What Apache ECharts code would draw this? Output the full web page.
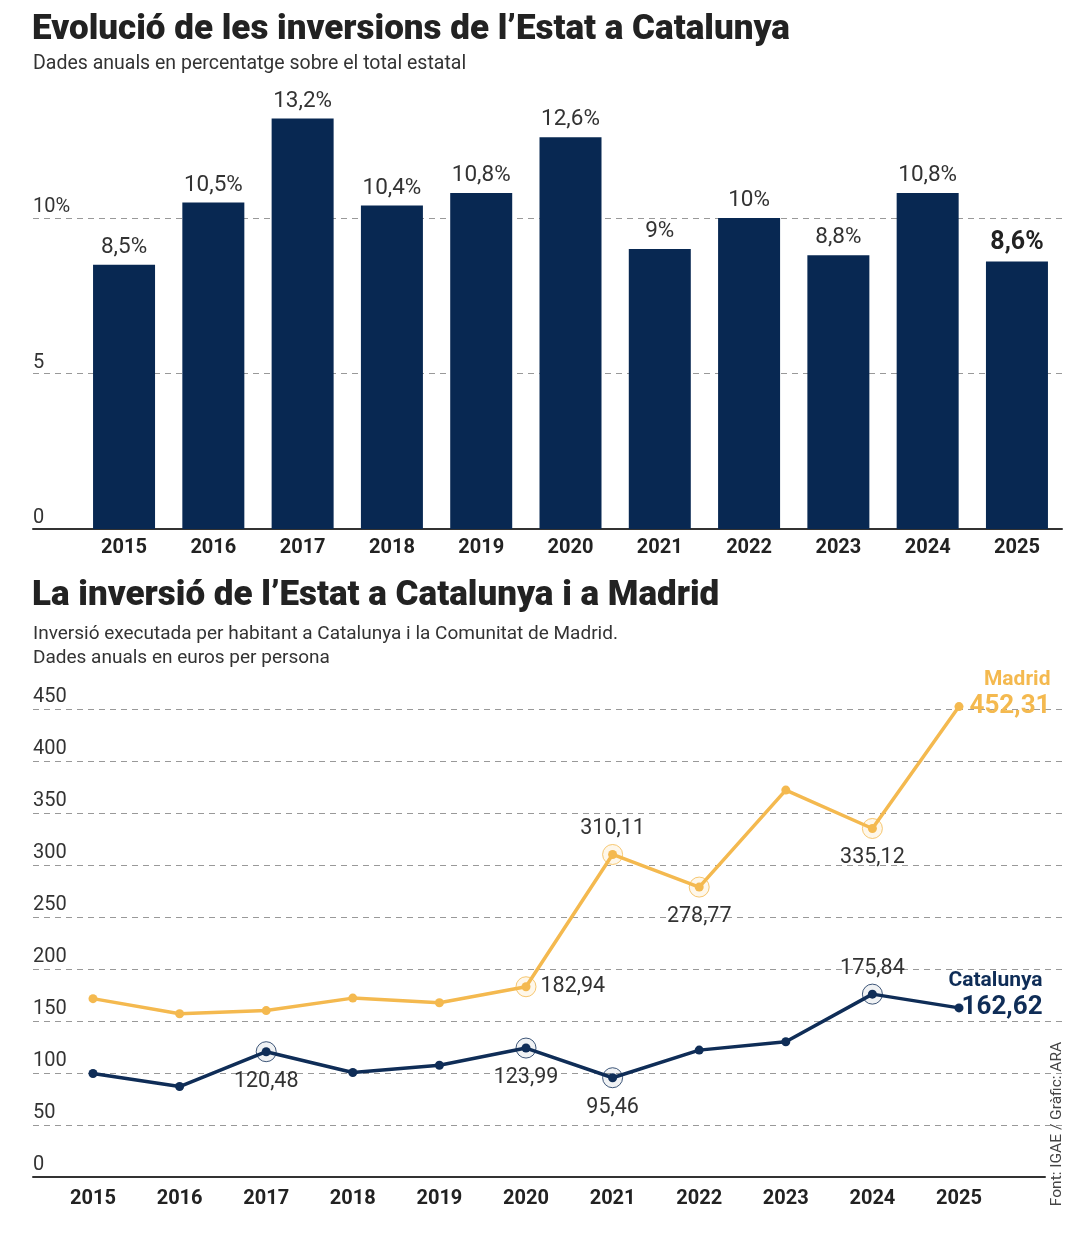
<!DOCTYPE html>
<html>
<head>
<meta charset="utf-8">
<script src="https://cdn.jsdelivr.net/npm/echarts@6/dist/echarts.min.js"></script>
<style>
html,body{margin:0;padding:0;background:#fff}
#main{width:1074px;height:1255px}
</style>
</head>
<body>
<div id="main"></div>
<script>
// dades
var years = ['2015','2016','2017','2018','2019','2020','2021','2022','2023','2024','2025'];
var sharePct = [8.5, 10.5, 13.2, 10.4, 10.8, 12.6, 9, 10, 8.8, 10.8, 8.6];
var madrid = [171.5, 157, 160, 172, 167.5, 182.94, 310.11, 278.77, 372, 335.12, 452.31];
var catalunya = [99.5, 87, 120.48, 100.5, 107.5, 123.99, 95.46, 122, 130, 175.84, 162.62];
var pctTicks = [0, 5, 10];
var euroTicks = [0, 50, 100, 150, 200, 250, 300, 350, 400, 450];

// punts destacats (index -> posicio etiqueta)
var madMarked = {5: 'right', 6: 'top', 7: 'bottom', 9: 'bottom'};
var catMarked = {2: 'bottom', 5: 'bottom', 6: 'bottom', 9: 'top'};

var FONT = 'Roboto, "Noto Sans", sans-serif';
var NAVY = '#082852';
var CAT = '#0f2d57';
var MAD = '#f4b94f';
var last = years.length - 1;

function fmt(v){ return String(v).replace('.', ','); }

function lineData(vals, marked, name, color, off){
	return vals.map(function(v, i){
		if (i === last) {
			return {value: v, label: {
				show: true, position: 'right', distance: 4, offset: off,
				formatter: '{n|' + name + '}\n{v|' + fmt(v) + '}',
				rich: {
					n: {fontFamily: FONT, fontWeight: 'bold', fontSize: 21, color: color, align: 'right', lineHeight: 25},
					v: {fontFamily: FONT, fontWeight: 'bold', fontSize: 26, color: color, align: 'right', lineHeight: 28}
				}
			}};
		}
		if (marked[i]) {
			var pos = marked[i];
			return {value: v, label: {show: true, position: pos, distance: pos === 'bottom' ? 14 : 10,
				formatter: fmt(v), fontFamily: FONT, fontSize: 21.5, color: '#333'}};
		}
		return v;
	});
}

function rings(vals, marked){
	return Object.keys(marked).map(function(k){ return [+k, vals[+k]]; });
}

var chart = echarts.init(document.getElementById('main'));
chart.setOption({
	animation: false,
	backgroundColor: '#fff',
	title: [
		{text: 'Evolució de les inversions de l’Estat a Catalunya', left: 32, top: 13, padding: 0,
			textStyle: {fontFamily: FONT, fontWeight: 900, fontSize: 35, color: '#222'}},
		{text: 'Dades anuals en percentatge sobre el total estatal', left: 33, top: 54, padding: 0,
			textStyle: {fontFamily: FONT, fontWeight: 'normal', fontSize: 19.5, color: '#333'}},
		{text: 'La inversió de l’Estat a Catalunya i a Madrid', left: 32, top: 579, padding: 0,
			textStyle: {fontFamily: FONT, fontWeight: 900, fontSize: 35, color: '#222'}},
		{text: 'Inversió executada per habitant a Catalunya i la Comunitat de Madrid.\nDades anuals en euros per persona', left: 33, top: 622, padding: 0,
			textStyle: {fontFamily: FONT, fontWeight: 'normal', fontSize: 19, lineHeight: 24, color: '#333'}}
	],
	graphic: [{
		type: 'text', x: 1057, y: 1124, rotation: Math.PI / 2,
		style: {text: 'Font: IGAE / Gràfic: ARA', fill: '#444', font: '15.5px ' + FONT, align: 'center', verticalAlign: 'middle'}
	}],
	grid: [
		{left: 33, right: 12, top: 62.5, bottom: 726},
		{left: 79.4, right: 12.4, top: 62.5, bottom: 726},
		{left: 33, right: 11, top: 657, bottom: 78},
		{left: 93, right: 115, top: 657, bottom: 78},
		{left: 33, right: 29, top: 657, bottom: 78}
	],
	xAxis: [
		{gridIndex: 0, type: 'value', min: 0, max: 1, axisLine: {show: true, lineStyle: {color: '#333', width: 2}},
			axisTick: {show: false}, axisLabel: {show: false}, splitLine: {show: false}},
		{gridIndex: 1, type: 'category', data: years, axisLine: {show: false}, axisTick: {show: false},
			axisLabel: {fontFamily: FONT, fontWeight: 'bold', fontSize: 20, color: '#222', margin: 9}},
		{gridIndex: 2, type: 'value', min: 0, max: 1, show: false},
		{gridIndex: 3, type: 'category', data: years, boundaryGap: false, axisLine: {show: false}, axisTick: {show: false},
			axisLabel: {fontFamily: FONT, fontWeight: 'bold', fontSize: 20, color: '#222', margin: 12}},
		{gridIndex: 4, type: 'value', min: 0, max: 1, axisLine: {show: true, lineStyle: {color: '#333', width: 2}},
			axisTick: {show: false}, axisLabel: {show: false}, splitLine: {show: false}}
	],
	yAxis: [
		{gridIndex: 0, type: 'value', min: 0, max: 15, interval: 5, axisLine: {show: false}, axisTick: {show: false},
			axisLabel: {inside: true, margin: 0, verticalAlign: 'bottom', padding: [0, 0, 1, 0], fontFamily: FONT, fontSize: 20, color: '#333',
				formatter: function(v){ return pctTicks.indexOf(v) < 0 ? '' : (v === 10 ? '10%' : String(v)); }},
			splitLine: {show: true, lineStyle: {type: [6, 5], width: 1, color: ['rgba(0,0,0,0)', '#999', '#999', 'rgba(0,0,0,0)']}}},
		{gridIndex: 1, type: 'value', min: 0, max: 15, show: false},
		{gridIndex: 2, type: 'value', min: 0, max: 500, interval: 50, axisLine: {show: false}, axisTick: {show: false},
			axisLabel: {inside: true, margin: 0, verticalAlign: 'bottom', padding: [0, 0, 2, 0], fontFamily: FONT, fontSize: 20, color: '#333',
				formatter: function(v){ return euroTicks.indexOf(v) < 0 ? '' : String(v); }},
			splitLine: {show: true, lineStyle: {type: [6, 5], width: 1,
				color: ['rgba(0,0,0,0)', '#999', '#999', '#999', '#999', '#999', '#999', '#999', '#999', '#999', 'rgba(0,0,0,0)']}}},
		{gridIndex: 3, type: 'value', min: 0, max: 500, show: false},
		{gridIndex: 4, type: 'value', min: 0, max: 500, show: false}
	],
	series: [
		{
			type: 'bar', xAxisIndex: 1, yAxisIndex: 1, barWidth: 62,
			data: sharePct.map(function(v, i){
				return i === last ? {value: v, label: {fontWeight: 'bold', fontSize: 25, color: '#222'}} : v;
			}),
			itemStyle: {color: NAVY},
			label: {show: true, position: 'top', distance: 6, fontFamily: FONT, fontSize: 22.5, color: '#333',
				formatter: function(p){ return fmt(p.value) + '%'; }}
		},
		{
			type: 'scatter', xAxisIndex: 3, yAxisIndex: 3, silent: true, symbolSize: 20, z: 1,
			data: rings(madrid, madMarked),
			itemStyle: {color: 'rgba(243,184,79,0.15)', borderColor: MAD, borderWidth: 1}
		},
		{
			type: 'scatter', xAxisIndex: 3, yAxisIndex: 3, silent: true, symbolSize: 20, z: 1,
			data: rings(catalunya, catMarked),
			itemStyle: {color: 'rgba(15,45,87,0.08)', borderColor: CAT, borderWidth: 1}
		},
		{
			type: 'line', name: 'Madrid', xAxisIndex: 3, yAxisIndex: 3, z: 3,
			data: lineData(madrid, madMarked, 'Madrid', MAD, [2, -13]),
			symbol: 'circle', symbolSize: 9, showAllSymbol: true,
			lineStyle: {color: MAD, width: 3.5}, itemStyle: {color: MAD}
		},
		{
			type: 'line', name: 'Catalunya', xAxisIndex: 3, yAxisIndex: 3, z: 3,
			data: lineData(catalunya, catMarked, 'Catalunya', CAT, [-19, -13]),
			symbol: 'circle', symbolSize: 9, showAllSymbol: true,
			lineStyle: {color: CAT, width: 3.5}, itemStyle: {color: CAT}
		}
	]
});
</script>
</body>
</html>
